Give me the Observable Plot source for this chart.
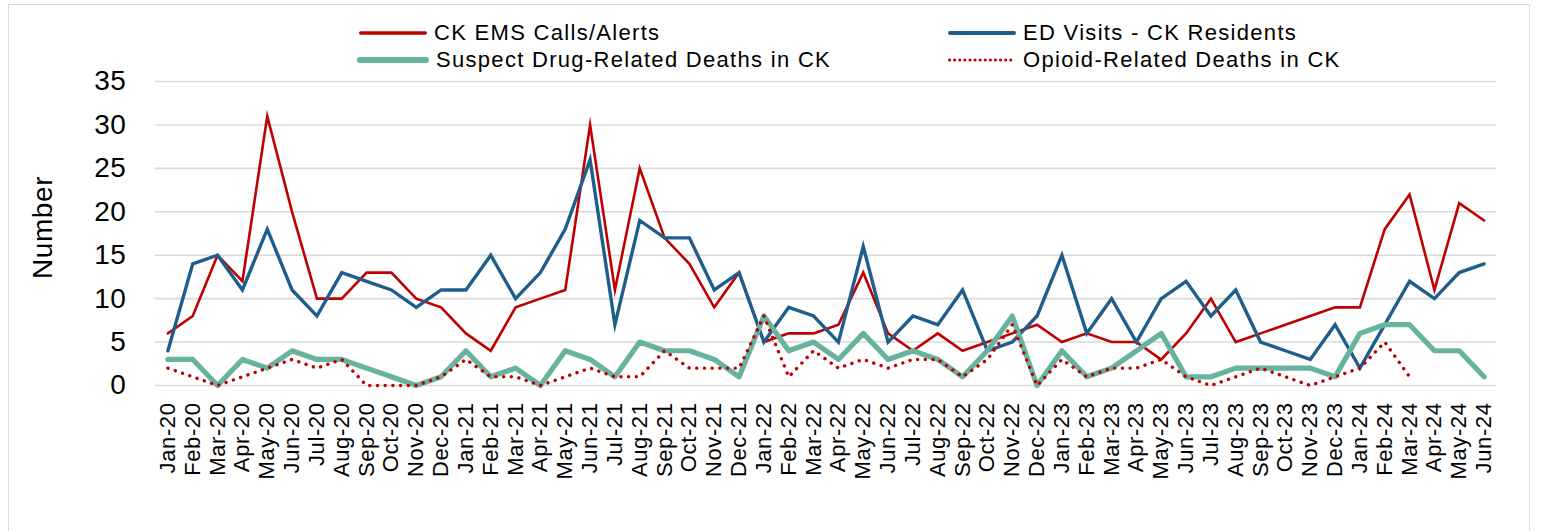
<!DOCTYPE html>
<html>
<head>
<meta charset="utf-8">
<script src="https://cdn.jsdelivr.net/npm/d3@7"></script>
<script src="https://cdn.jsdelivr.net/npm/@observablehq/plot@0.6"></script>
<style>
  html, body { margin: 0; padding: 0; background: #fff; width: 1546px; height: 531px; overflow: hidden; }
  body { position: relative; font-family: "Liberation Sans", Arial, sans-serif; }
  #box { position: absolute; left: 8px; top: 4px; width: 1522px; height: 560px; border: 1.5px solid #d9d9d9; box-sizing: border-box; }
  #legend { position: absolute; left: 0; top: 0; width: 1546px; height: 68px; z-index: 2; }
  .item { position: absolute; display: flex; align-items: center; font-size: 22px; letter-spacing: 1.3px; color: #000; line-height: 1; }
  .item svg { margin-right: 6px; }
  #chart { position: absolute; left: 0; top: 48px; }
  #chart svg text { letter-spacing: 0.6px; }
  #chart svg text.ylab { letter-spacing: 1.5px; }
</style>
</head>
<body>
<div id="box"></div>
<div id="legend"></div>
<div id="chart"></div>
<script>
const months = ["Jan-20","Feb-20","Mar-20","Apr-20","May-20","Jun-20","Jul-20","Aug-20","Sep-20","Oct-20","Nov-20","Dec-20",
"Jan-21","Feb-21","Mar-21","Apr-21","May-21","Jun-21","Jul-21","Aug-21","Sep-21","Oct-21","Nov-21","Dec-21",
"Jan-22","Feb-22","Mar-22","Apr-22","May-22","Jun-22","Jul-22","Aug-22","Sep-22","Oct-22","Nov-22","Dec-22",
"Jan-23","Feb-23","Mar-23","Apr-23","May-23","Jun-23","Jul-23","Aug-23","Sep-23","Oct-23","Nov-23","Dec-23",
"Jan-24","Feb-24","Mar-24","Apr-24","May-24","Jun-24"];

const emsCalls = [6,8,15,12,31,20,10,10,13,13,10,9,
  6,4,9,10,11,30,11,25,17,14,9,13,
  5,6,6,7,13,6,4,6,4,5,6,7,
  5,6,5,5,3,6,10,5,6,7,8,9,
  9,18,22,11,21,19];

const edVisits = [4,14,15,11,18,11,8,13,12,11,9,11,
  11,15,10,13,18,26,7,19,17,17,11,13,
  5,9,8,5,16,5,8,7,11,4,5,8,
  15,6,10,5,10,12,8,11,5,4,3,7,
  2,7,12,10,13,14];

const suspectDeaths = [3,3,0,3,2,4,3,3,2,1,0,1,
  4,1,2,0,4,3,1,5,4,4,3,1,
  8,4,5,3,6,3,4,3,1,4,8,0,
  4,1,2,4,6,1,1,2,2,2,2,1,
  6,7,7,4,4,1];

const opioidDeaths = [2,1,0,1,2,3,2,3,0,0,0,1,
  3,1,1,0,1,2,1,1,4,2,2,2,
  8,1,4,2,3,2,3,3,1,3,7,0,
  3,1,2,2,3,1,0,1,2,1,0,1,
  2,5,1,null,null,null];

const yTicks = [0,5,10,15,20,25,30,35];

const seriesNames = ["CK EMS Calls/Alerts","ED Visits - CK Residents","Suspect Drug-Related Deaths in CK","Opioid-Related Deaths in CK"];
const colors = {red: "#c00000", blue: "#1f5e8c", teal: "#68b2a0"};

const rows = (vals) => months.map((m, i) => ({month: m, value: vals[i]}));

const chart = Plot.plot({
  width: 1546,
  height: 483,
  marginLeft: 155,
  marginRight: 50,
  marginTop: 33,
  marginBottom: 146,
  style: {fontFamily: "'Liberation Sans', Arial, sans-serif", fontSize: "22px", color: "#000", background: "transparent"},
  x: {type: "point", domain: months, label: null},
  y: {domain: [0, 35], label: null},
  marks: [
    Plot.gridY(yTicks, {stroke: "#d9d9d9", strokeOpacity: 1, strokeWidth: 1.6}),
    Plot.axisY(yTicks, {tickSize: 0, tickPadding: 29, fontSize: 28, label: null}),
    Plot.axisX({tickSize: 0, tickPadding: 17, tickRotate: -90, fontSize: 22, label: null}),
    Plot.text(["Number"], {frameAnchor: "left", textAnchor: "middle", dx: -112, dy: -6, rotate: -90, fontSize: 28, fill: "#000", className: "ylab"}),
    Plot.line(rows(emsCalls), {x: "month", y: "value", stroke: colors.red, strokeWidth: 2.6, strokeLinejoin: "miter", strokeMiterlimit: 10}),
    Plot.line(rows(edVisits), {x: "month", y: "value", stroke: colors.blue, strokeWidth: 3.4, strokeLinejoin: "miter", strokeMiterlimit: 10}),
    Plot.line(rows(suspectDeaths), {x: "month", y: "value", stroke: colors.teal, strokeWidth: 5.2, strokeLinejoin: "round"}),
    Plot.line(rows(opioidDeaths), {x: "month", y: "value", stroke: colors.red, strokeWidth: 3.4, strokeDasharray: "0.1,7.6", strokeLinecap: "round"})
  ]
});
document.getElementById("chart").appendChild(chart);

// Legend
const legendItems = [
  {name: seriesNames[0], color: colors.red, width: 3.5, dash: null, left: 358, top: 33},
  {name: seriesNames[1], color: colors.blue, width: 4, dash: null, left: 947, top: 33},
  {name: seriesNames[2], color: colors.teal, width: 6, dash: null, left: 356, top: 60},
  {name: seriesNames[3], color: colors.red, width: 3, dash: "0.1,5", left: 947, top: 60}
];
const legend = document.getElementById("legend");
legendItems.forEach(it => {
  const div = document.createElement("div");
  div.className = "item";
  div.style.left = it.left + "px";
  div.style.top = (it.top - 12) + "px";
  div.style.height = "24px";
  const sw = it.name === seriesNames[2] ? 74 : 70;
  div.innerHTML = `<svg width="${sw}" height="12"><line x1="${it.width/2+1}" y1="6" x2="${sw - it.width/2 - 1}" y2="6" stroke="${it.color}" stroke-width="${it.width}" stroke-linecap="round" ${it.dash ? `stroke-dasharray="${it.dash}"` : ""}/></svg><span>${it.name}</span>`;
  legend.appendChild(div);
});
</script>
</body>
</html>
